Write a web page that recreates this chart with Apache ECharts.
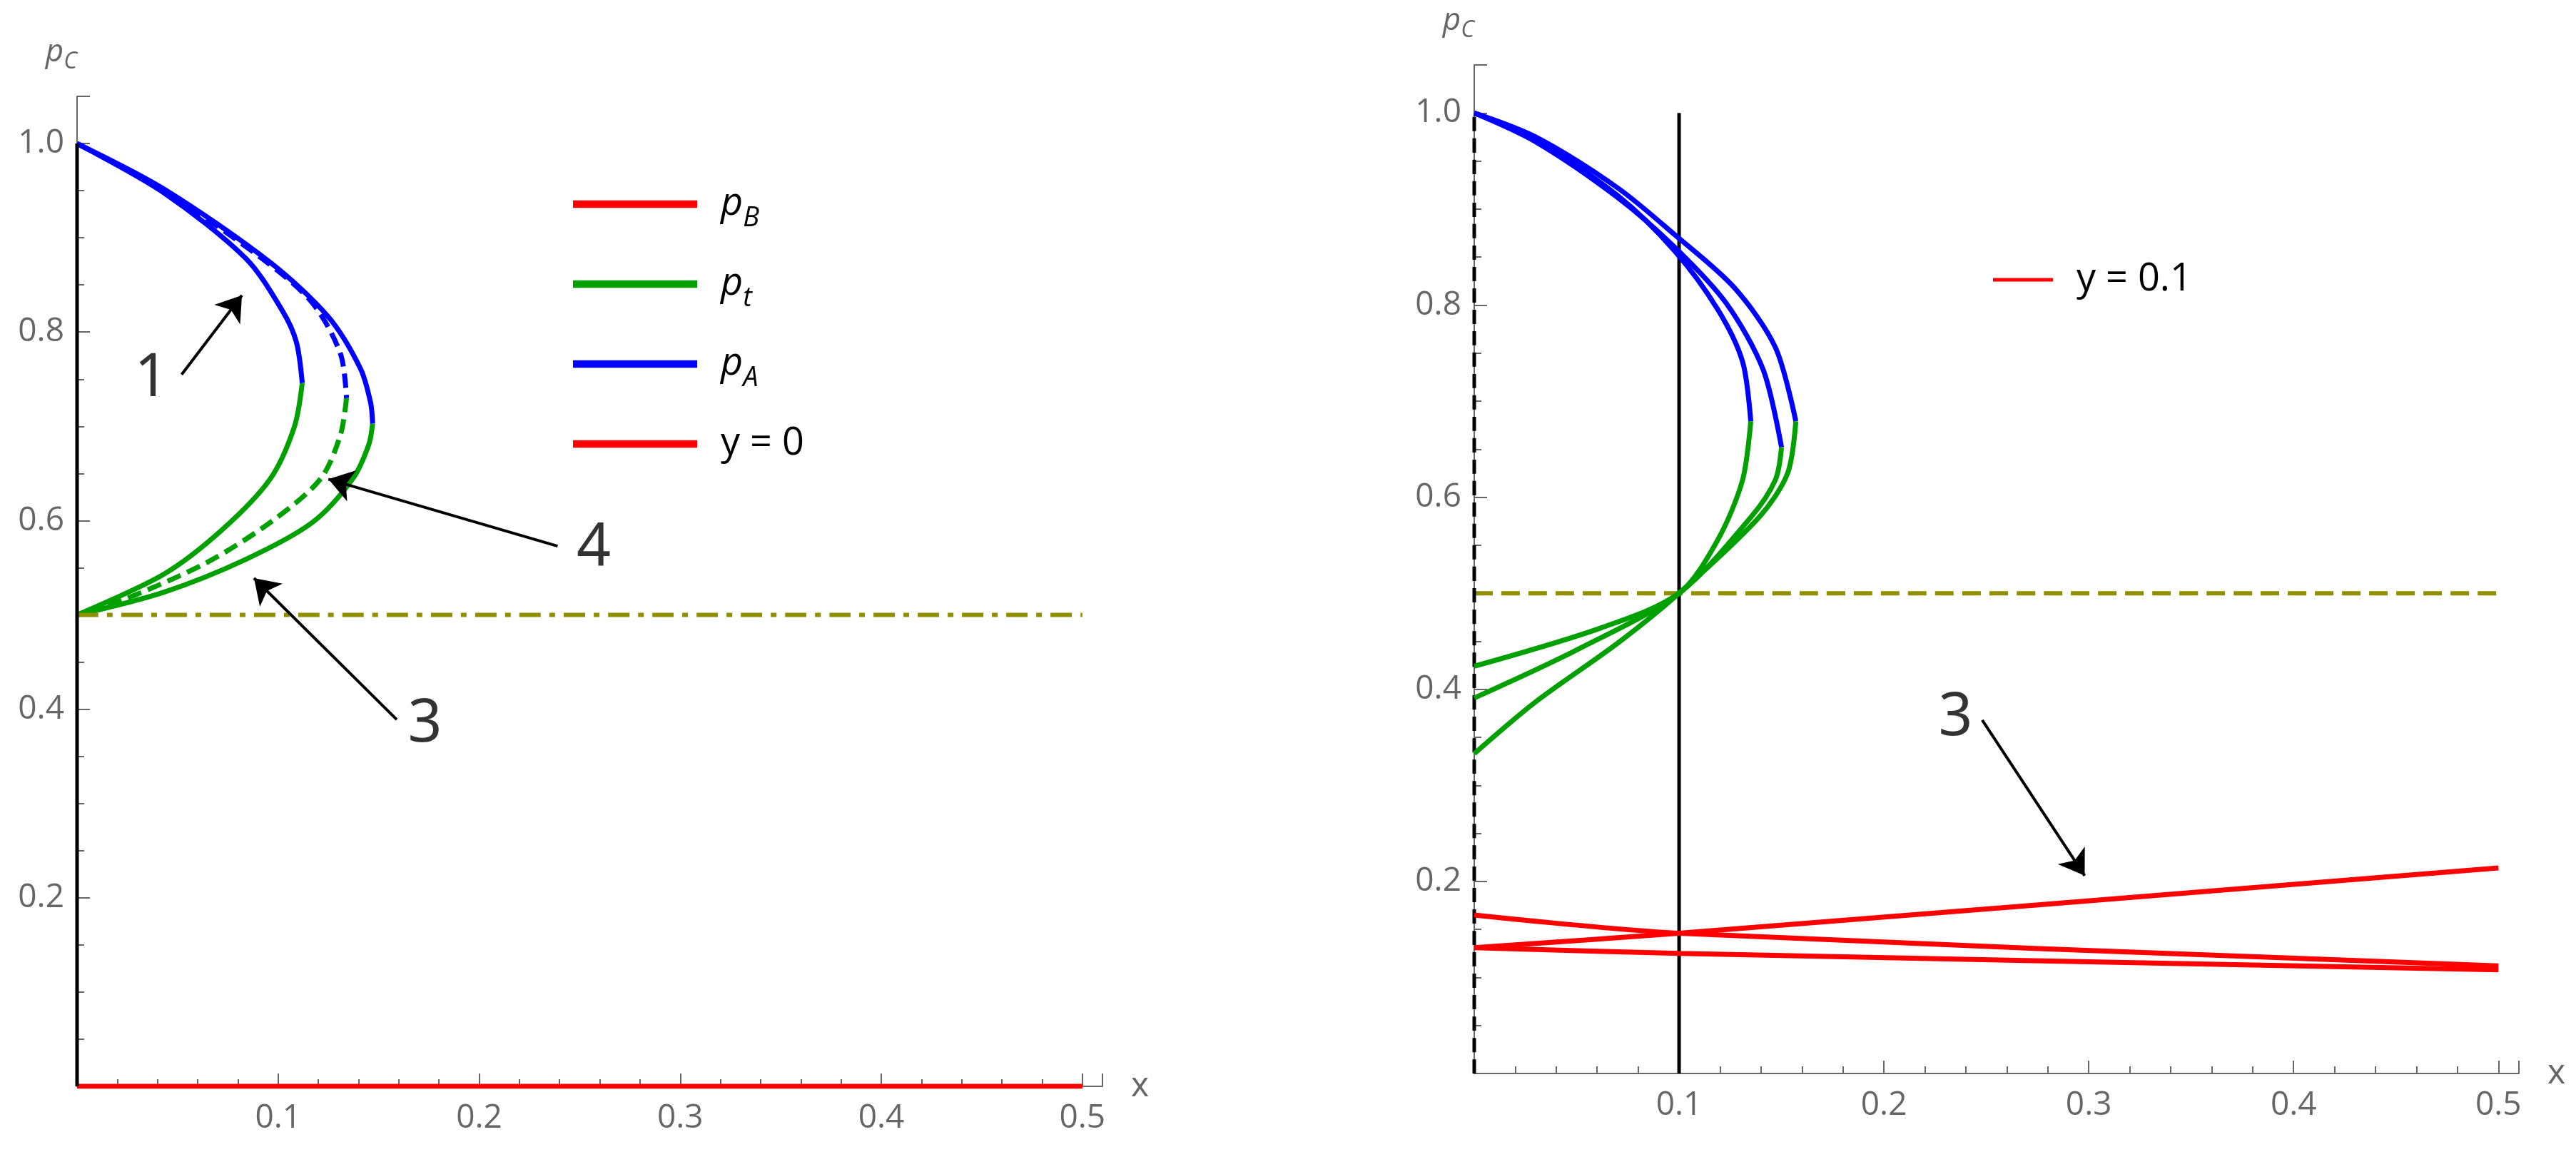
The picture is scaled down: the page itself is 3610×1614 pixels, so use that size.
<!DOCTYPE html>
<html>
<head>
<meta charset="utf-8">
<script src="https://cdn.jsdelivr.net/npm/echarts@6/dist/echarts.min.js"></script>
<style>html,body{margin:0;background:#fff}#main{width:3610px;height:1614px}</style>
</head>
<body>
<div id="main"></div>
<script>
// left panel, y = 0
var leftInnerBlue = [[0,1],[0.043,0.948],[0.084,0.878],[0.102,0.823],[0.109,0.790],[0.112,0.746]];
var leftInnerGreen = [[0.112,0.746],[0.108,0.699],[0.096,0.644],[0.072,0.590],[0.043,0.543],[0,0.5]];
var leftDashBlue = [[0,1],[0.043,0.950],[0.092,0.878],[0.117,0.831],[0.131,0.777],[0.134,0.730]];
var leftDashGreen = [[0.134,0.730],[0.131,0.691],[0.121,0.644],[0.096,0.598],[0.064,0.555],[0.023,0.516],[0,0.5]];
var leftOuterBlue = [[0,1],[0.043,0.952],[0.096,0.874],[0.125,0.816],[0.141,0.761],[0.146,0.725],[0.147,0.703]];
var leftOuterGreen = [[0.147,0.703],[0.145,0.680],[0.137,0.644],[0.117,0.598],[0.084,0.559],[0.043,0.524],[0,0.5]];
var leftPB = [[0,0],[0.5,0]];
var leftHalf = [[0,0.5],[0.5,0.5]];
var leftAxisLine = [[0,0],[0,1]];
var leftArrows = [[[0.052,0.755],[0.082,0.839]],[[0.239,0.573],[0.125,0.644]],[[0.159,0.389],[0.088,0.539]]];
var leftLabels = [[0.037,0.75,'1'],[0.257,0.57,'4'],[0.173,0.384,'3']];

// right panel, y = 0.1
var rightBlue = [
  [[0,1],[0.030,0.972],[0.070,0.914],[0.098,0.856],[0.119,0.795],[0.131,0.741],[0.135,0.679]],
  [[0,1],[0.030,0.970],[0.070,0.912],[0.098,0.860],[0.123,0.802],[0.141,0.733],[0.150,0.652]],
  [[0,1],[0.030,0.975],[0.070,0.922],[0.098,0.873],[0.127,0.818],[0.147,0.756],[0.157,0.679]]
];
var rightGreen = [
  [[0.135,0.679],[0.131,0.618],[0.119,0.556],[0.1,0.5],[0.062,0.464],[0,0.424]],
  [[0.150,0.652],[0.147,0.618],[0.135,0.579],[0.1,0.5],[0.050,0.441],[0,0.391]],
  [[0.157,0.679],[0.153,0.625],[0.139,0.579],[0.1,0.5],[0.070,0.448],[0.030,0.387],[0,0.333]]
];
var rightRed = [
  [[0,0.165],[0.1,0.146],[0.5,0.112]],
  [[0,0.131],[0.1,0.146],[0.5,0.214]],
  [[0,0.131],[0.1,0.125],[0.5,0.108]]
];
var rightHalf = [[0,0.5],[0.5,0.5]];
var rightAxisLine = [[0,0],[0,1]];
var rightVert = [[0.1,0],[0.1,1]];
var rightArrows = [[[0.248,0.368],[0.298,0.206]]];
var rightLabels = [[0.235,0.37,'3']];

var xTicks = [0.1,0.2,0.3,0.4,0.5];
var yTicks = [0.2,0.4,0.6,0.8,1.0];

var myChart = echarts.init(document.getElementById('main'));
var font = '"Open Sans", sans-serif';
var grey = '#666';

function xAxis(i) {
  return {
    gridIndex: i, type: 'value', min: 0, max: 0.51, interval: 0.1,
    name: 'x', nameGap: 40, nameTextStyle: {fontSize: 48, color: grey, fontFamily: font, verticalAlign: 'middle'},
    axisLine: {lineStyle: {color: grey, width: 2}},
    axisTick: {inside: true, length: 18, lineStyle: {color: grey, width: 2}},
    minorTick: {show: true, splitNumber: 5, length: 10, lineStyle: {color: grey, width: 2}},
    splitLine: {show: false},
    axisLabel: {fontSize: 46, color: grey, fontFamily: font, margin: 22, showMaxLabel: false,
      formatter: function (v) { return xTicks.indexOf(Math.round(v * 100) / 100) >= 0 ? v.toFixed(1) : ''; }}
  };
}
function yAxis(i) {
  return {
    gridIndex: i, type: 'value', min: 0, max: 1.05, interval: 0.2,
    name: '{i|p}{s|C}', nameGap: 40, nameLocation: 'end',
    nameTextStyle: {align: 'right', rich: {i: {fontSize: 44, fontStyle: 'italic', color: grey, fontFamily: font},
      s: {fontSize: 32, fontStyle: 'italic', color: grey, fontFamily: font, verticalAlign: 'bottom', padding: [0,0,-8,0]}}},
    axisLine: {lineStyle: {color: grey, width: 2}},
    axisTick: {inside: true, length: 18, lineStyle: {color: grey, width: 2}},
    minorTick: {show: true, splitNumber: 4, length: 10, lineStyle: {color: grey, width: 2}},
    splitLine: {show: false},
    axisLabel: {fontSize: 46, color: grey, fontFamily: font, margin: 18, showMaxLabel: false,
      formatter: function (v) { return yTicks.indexOf(Math.round(v * 100) / 100) >= 0 ? v.toFixed(1) : ''; }}
  };
}
function line(i, name, data, color, type, width) {
  return {
    name: name, type: 'line', xAxisIndex: i, yAxisIndex: i, data: data, smooth: 0.3,
    showSymbol: false, symbol: 'none', silent: true, z: 3,
    lineStyle: {color: color, width: width || 7, type: type || 'solid'},
    itemStyle: {color: color}
  };
}
function arrows(i, list) {
  return {
    type: 'lines', coordinateSystem: 'cartesian2d', xAxisIndex: i, yAxisIndex: i, z: 5,
    symbol: ['none', 'arrow'], symbolSize: 34,
    lineStyle: {color: '#000', width: 4, opacity: 1},
    data: list.map(function (a) { return {coords: a}; })
  };
}
function labels(i, list) {
  return {
    type: 'scatter', xAxisIndex: i, yAxisIndex: i, symbolSize: 0, z: 6,
    data: list.map(function (l) { return [l[0], l[1], l[2]]; }),
    label: {show: true, position: 'inside', fontSize: 84, color: '#000', fontFamily: '"Noto Sans", sans-serif',
      formatter: function (p) { return p.data[2]; }}
  };
}

var blue = '#0000ff', green = '#00a000', red = '#ff0000', olive = '#8f8f00';
var legendRich = {
  i: {fontSize: 54, fontStyle: 'italic', color: '#000', fontFamily: font, padding: [0,0,0,28]},
  s: {fontSize: 38, fontStyle: 'italic', color: '#000', fontFamily: font, verticalAlign: 'bottom', padding: [0,0,-12,0]},
  n: {fontSize: 54, color: '#000', fontFamily: font, padding: [0,0,0,28]}
};
function legendFmt(n) {
  if (n.charAt(0) === 'p') return '{i|p}{s|' + n.charAt(1) + '}';
  return '{n|' + n + '}';
}

var series = [
  line(0, 'pB', leftPB, red, 'solid', 7),
  line(0, 'pt', leftInnerGreen, green),
  line(0, 'pA', leftInnerBlue, blue),
  line(0, 'y = 0', [], red, [22, 10]),
  line(0, 'pt', leftOuterGreen, green),
  line(0, 'pA', leftOuterBlue, blue),
  line(0, 'pt', leftDashGreen, green, [20, 10]),
  line(0, 'pA', leftDashBlue, blue, [20, 10]),
  line(0, 'half', leftHalf, olive, [30, 12, 8, 12], 6),
  line(0, 'axis', leftAxisLine, '#000', 'solid', 5),
  arrows(0, leftArrows),
  labels(0, leftLabels),
  line(1, 'half', rightHalf, olive, [26, 12], 6),
  line(1, 'axis', rightAxisLine, '#000', [20, 10], 5),
  line(1, 'vert', rightVert, '#000', 'solid', 5),
  arrows(1, rightArrows),
  labels(1, rightLabels)
];
rightBlue.forEach(function (d) { series.push(line(1, 'pA', d, blue)); });
rightGreen.forEach(function (d) { series.push(line(1, 'pt', d, green)); });
rightRed.forEach(function (d) { series.push(line(1, 'y = 0.1', d, red)); });

var option = {
  animation: false,
  backgroundColor: '#fff',
  grid: [
    {left: 108, top: 135, width: 1437, height: 1387},
    {left: 2066, top: 91, width: 1464, height: 1413}
  ],
  xAxis: [xAxis(0), xAxis(1)],
  yAxis: [yAxis(0), yAxis(1)],
  legend: [
    {data: ['pB', 'pt', 'pA', 'y = 0'], orient: 'vertical', left: 798, top: 254,
     itemWidth: 174, itemHeight: 40, itemGap: 46, icon: 'path://M0,17H100V23H0Z',
     formatter: legendFmt, textStyle: {rich: legendRich}, selectedMode: false},
    {data: ['y = 0.1'], orient: 'vertical', left: 2788, top: 360,
     itemWidth: 84, itemHeight: 40, icon: 'path://M0,17H100V23H0Z',
     formatter: legendFmt, textStyle: {rich: legendRich}, selectedMode: false}
  ],
  series: series
};
myChart.setOption(option);
</script>
</body>
</html>
